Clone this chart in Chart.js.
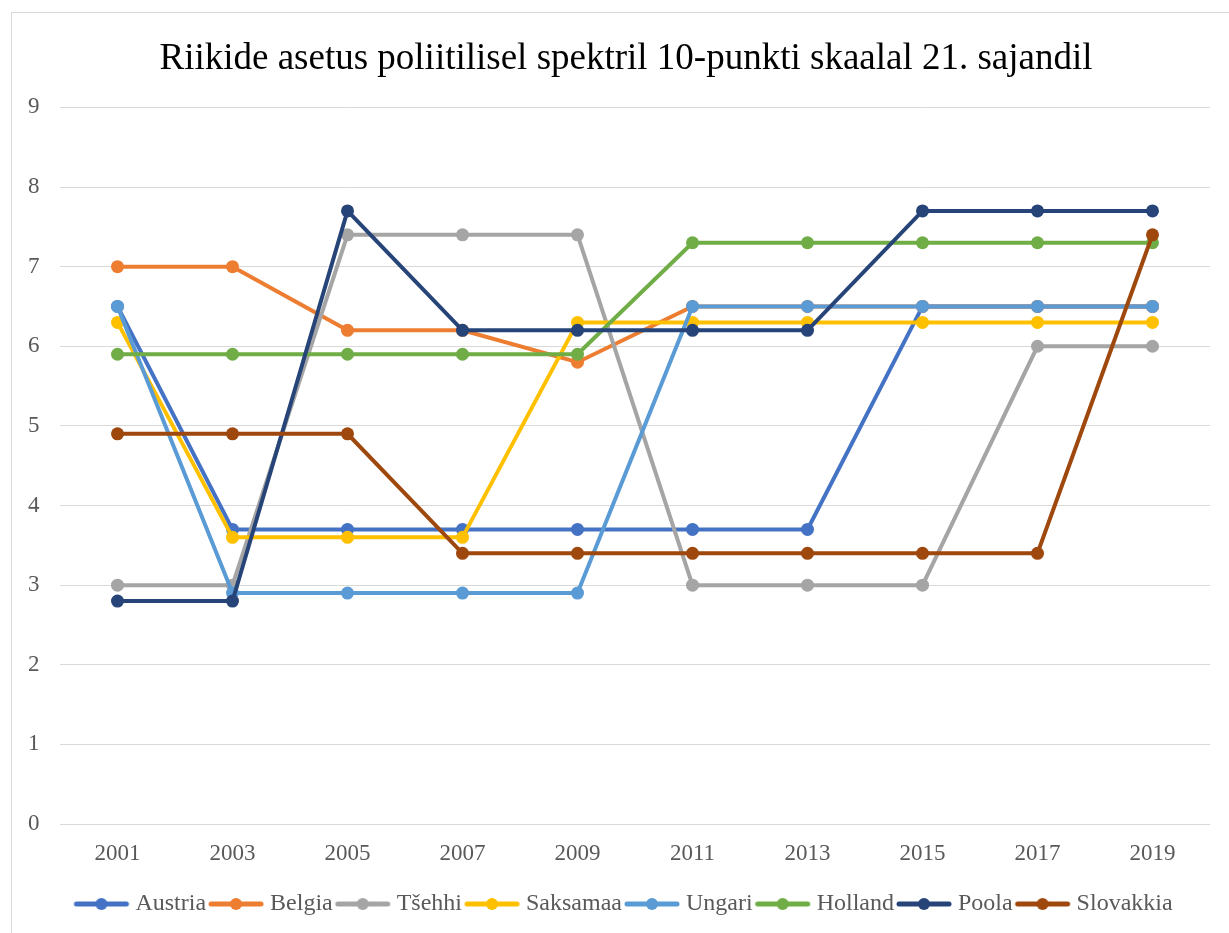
<!DOCTYPE html>
<html>
<head>
<meta charset="utf-8">
<script src="https://cdn.jsdelivr.net/npm/chart.js@4.4.1/dist/chart.umd.min.js"></script>
<style>
    html, body { margin: 0; padding: 0; background: #fff; overflow: hidden; }
    #frame {
        position: absolute;
        left: 11px;
        top: 12px;
        width: 1228px;
        height: 925px;
        border: 1px solid #d9d9d9;
        background: #fff;
    }
</style>
</head>
<body>
<div id="frame"><canvas id="spectrumChart" width="1228" height="925"></canvas></div>
<script>
const years = ['2001', '2003', '2005', '2007', '2009', '2011', '2013', '2015', '2017', '2019'];

const austria   = [6.5, 3.7, 3.7, 3.7, 3.7, 3.7, 3.7, 6.5, 6.5, 6.5];
const belgia    = [7.0, 7.0, 6.2, 6.2, 5.8, 6.5, 6.5, 6.5, 6.5, 6.5];
const tsehhi    = [3.0, 3.0, 7.4, 7.4, 7.4, 3.0, 3.0, 3.0, 6.0, 6.0];
const saksamaa  = [6.3, 3.6, 3.6, 3.6, 6.3, 6.3, 6.3, 6.3, 6.3, 6.3];
const ungari    = [6.5, 2.9, 2.9, 2.9, 2.9, 6.5, 6.5, 6.5, 6.5, 6.5];
const holland   = [5.9, 5.9, 5.9, 5.9, 5.9, 7.3, 7.3, 7.3, 7.3, 7.3];
const poola     = [2.8, 2.8, 7.7, 6.2, 6.2, 6.2, 6.2, 7.7, 7.7, 7.7];
const slovakkia = [4.9, 4.9, 4.9, 3.4, 3.4, 3.4, 3.4, 3.4, 3.4, 7.4];

const seriesNames  = ['Austria', 'Belgia', 'Tšehhi', 'Saksamaa', 'Ungari', 'Holland', 'Poola', 'Slovakkia'];
const seriesData   = [austria, belgia, tsehhi, saksamaa, ungari, holland, poola, slovakkia];
const seriesColors = ['#4472C4', '#ED7D31', '#A5A5A5', '#FFC000', '#5B9BD5', '#70AD47', '#264478', '#9E480E'];

const yTicks = [0, 1, 2, 3, 4, 5, 6, 7, 8, 9];

const serif = "'Liberation Serif', 'Times New Roman', serif";

// small line + dot marker for the legend, like in Excel
function legendMarker(color) {
    const c = document.createElement('canvas');
    c.width = 58;
    c.height = 16;
    const g = c.getContext('2d');
    g.strokeStyle = color;
    g.lineWidth = 5;
    g.lineCap = 'round';
    g.beginPath();
    g.moveTo(4, 8);
    g.lineTo(54, 8);
    g.stroke();
    g.fillStyle = color;
    g.beginPath();
    g.arc(29, 8, 6, 0, Math.PI * 2);
    g.fill();
    return c;
}

const datasets = seriesNames.map((name, i) => ({
    label: name,
    data: seriesData[i],
    borderColor: seriesColors[i],
    backgroundColor: seriesColors[i],
    pointBackgroundColor: seriesColors[i],
    pointBorderWidth: 0,
    pointRadius: 6.5,
    pointHoverRadius: 7,
    borderWidth: 4,
    tension: 0,
    fill: false,
    order: seriesNames.length - i
}));

const ctx = document.getElementById('spectrumChart').getContext('2d');
const spectrumChart = new Chart(ctx, {
    type: 'line',
    data: {
        labels: years,
        datasets: datasets
    },
    options: {
        responsive: false,
        animation: false,
        layout: {
            padding: { left: 30, right: 30, top: 0, bottom: 12 }
        },
        plugins: {
            title: {
                display: true,
                text: 'Riikide asetus poliitilisel spektril 10-punkti skaalal 21. sajandil',
                color: '#000',
                font: { family: serif, size: 37, weight: 'normal', lineHeight: 1.2 },
                padding: { top: 24, bottom: 26 }
            },
            legend: {
                display: true,
                position: 'bottom',
                labels: {
                    usePointStyle: true,
                    pointStyleWidth: 44,
                    padding: 8,
                    color: '#595959',
                    font: { family: serif, size: 24 },
                    sort: (a, b) => a.datasetIndex - b.datasetIndex,
                    generateLabels: (chart) => {
                        const items = Chart.defaults.plugins.legend.labels.generateLabels(chart);
                        items.forEach(item => {
                            item.pointStyle = legendMarker(seriesColors[item.datasetIndex]);
                        });
                        return items;
                    }
                }
            },
            tooltip: { enabled: true }
        },
        scales: {
            x: {
                offset: true,
                grid: { display: false, drawTicks: false },
                border: { display: false },
                ticks: {
                    color: '#595959',
                    font: { family: serif, size: 23 },
                    padding: 16,
                    maxRotation: 0
                },
                afterFit: (scale) => { scale.height = 60; }
            },
            y: {
                min: 0,
                max: 9,
                afterBuildTicks: (scale) => {
                    scale.ticks = yTicks.map(v => ({ value: v }));
                },
                grid: { color: '#d9d9d9', lineWidth: 1, drawTicks: false },
                border: { display: false },
                ticks: {
                    mirror: true,
                    color: '#595959',
                    font: { family: serif, size: 23 },
                    padding: -32
                },
                afterFit: (scale) => { scale.width = 18; }
            }
        }
    }
});
</script>
</body>
</html>
